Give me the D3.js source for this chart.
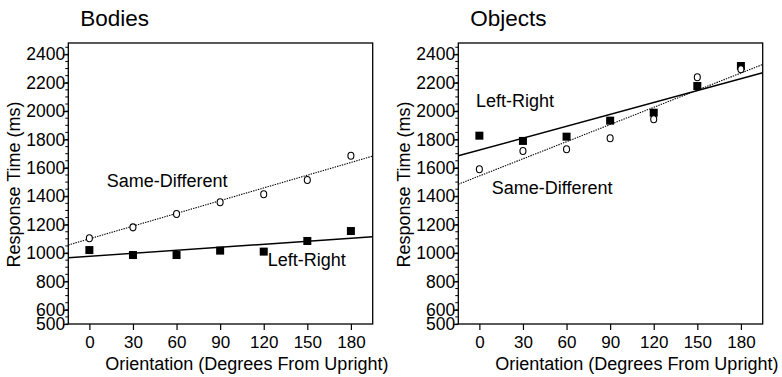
<!DOCTYPE html>
<html>
<head>
<meta charset="utf-8">
<script src="https://cdn.jsdelivr.net/npm/d3@7"></script>
<style>
  body { margin: 0; background: #fff; }
  text { font-family: "Liberation Sans", Arial, Helvetica, sans-serif; fill: #000; }
</style>
</head>
<body>
<div id="chart"></div>
<script>
// orientations (degrees from upright)
const orientations = [0, 30, 60, 90, 120, 150, 180];
const yTicks = [500, 600, 800, 1000, 1200, 1400, 1600, 1800, 2000, 2200, 2400];

// response times (ms)
const bodiesSameDiff = [1104, 1181, 1275, 1358, 1414, 1515, 1686];
const bodiesLeftRight = [1021, 986, 986, 1017, 1010, 1085, 1155];
const objectsSameDiff = [1590, 1719, 1731, 1809, 1943, 2239, 2295];
const objectsLeftRight = [1827, 1790, 1820, 1933, 1989, 2177, 2318];

// fitted lines [intercept, slope]
const bodiesSameDiffFit = [1100, 2.99];
const bodiesLeftRightFit = [977, 0.706];
const objectsSameDiffFit = [1543, 4.03];
const objectsLeftRightFit = [1726, 2.79];

const width = 782, height = 377;
const svg = d3.select("#chart").append("svg")
  .attr("width", width).attr("height", height);

const panelW = 304.4, plotTop = 43, plotBottom = 324;

function drawPanel(opts) {
  const x = d3.scaleLinear().domain([-14.5, 195]).range([opts.left, opts.left + panelW]);
  const y = d3.scaleLinear().domain([500, 2480]).range([plotBottom, plotTop]);
  const g = svg.append("g");

  //title
  g.append("text")
    .attr("x", opts.left + 12).attr("y", 26)
    .style("font-size", "22.5px")
    .text(opts.title);

  //frame
  g.append("rect")
    .attr("x", x.range()[0]).attr("y", plotTop)
    .attr("width", panelW).attr("height", plotBottom - plotTop)
    .attr("fill", "none").attr("stroke", "#000").attr("stroke-width", 1.3);

  //y axis: minor ticks every 50
  const minor = d3.range(500, 2451, 50);
  g.selectAll(".minor").data(minor).enter().append("line")
    .attr("x1", opts.left - 3).attr("x2", opts.left)
    .attr("y1", d => y(d)).attr("y2", d => y(d))
    .attr("stroke", "#000").attr("stroke-width", 1);
  const yAxis = g.append("g")
    .attr("transform", `translate(${opts.left},0)`)
    .call(d3.axisLeft(y).tickValues(yTicks).tickFormat(d3.format("d"))
      .tickSize(5).tickPadding(-2).tickSizeOuter(0));
  yAxis.select(".domain").remove();
  yAxis.selectAll("line").attr("stroke-width", 1.2);
  yAxis.selectAll("text").style("font-size", "17.5px");

  //x axis
  const xAxis = g.append("g")
    .attr("transform", `translate(0,${plotBottom})`)
    .call(d3.axisBottom(x).tickValues(orientations).tickSize(6).tickPadding(6).tickSizeOuter(0));
  xAxis.select(".domain").remove();
  xAxis.selectAll("line").attr("stroke-width", 1.2);
  xAxis.selectAll("text").style("font-size", "17px");

  //axis labels
  g.append("text")
    .attr("transform", `translate(${opts.left - 48},${(plotTop + plotBottom) / 2 + 1}) rotate(-90)`)
    .attr("text-anchor", "middle")
    .style("font-size", "18px")
    .text("Response Time (ms)");
  g.append("text")
    .attr("x", opts.left + 37).attr("y", 370)
    .style("font-size", "18px")
    .text("Orientation (Degrees From Upright)");

  //fit lines
  const clipId = "clip" + Math.round(opts.left);
  g.append("clipPath").attr("id", clipId).append("rect")
    .attr("x", opts.left).attr("y", plotTop).attr("width", panelW).attr("height", plotBottom - plotTop);
  const line = d3.line().x(d => x(d[0])).y(d => y(d[1]));
  const fitPts = (f) => x.domain().map(v => [v, f[0] + f[1] * v]);
  g.append("path").datum(fitPts(opts.lrFit))
    .attr("clip-path", `url(#${clipId})`)
    .attr("d", line).attr("fill", "none")
    .attr("stroke", "#000").attr("stroke-width", 1.4);
  g.append("path").datum(fitPts(opts.sdFit))
    .attr("clip-path", `url(#${clipId})`)
    .attr("d", line).attr("fill", "none")
    .attr("stroke", "#000").attr("stroke-width", 1.1)
    .attr("stroke-dasharray", "1.4,1.1");

  //points
  const s = 8;
  g.selectAll(".sq").data(opts.lr).enter().append("rect")
    .attr("x", (d, i) => x(orientations[i]) - s / 2)
    .attr("y", d => y(d) - s / 2)
    .attr("width", s).attr("height", s)
    .attr("fill", "#000");
  g.selectAll(".circ").data(opts.sd).enter().append("ellipse")
    .attr("cx", (d, i) => x(orientations[i]))
    .attr("cy", d => y(d))
    .attr("rx", 3).attr("ry", 3.5)
    .attr("fill", "#fff").attr("stroke", "#000").attr("stroke-width", 1.1);

  //series labels
  g.append("text")
    .attr("x", opts.sdLabel[0]).attr("y", opts.sdLabel[1])
    .style("font-size", "18px").text("Same-Different");
  g.append("text")
    .attr("x", opts.lrLabel[0]).attr("y", opts.lrLabel[1])
    .style("font-size", "18px").text("Left-Right");
}

drawPanel({
  left: 68.3, title: "Bodies",
  sd: bodiesSameDiff, lr: bodiesLeftRight,
  sdFit: bodiesSameDiffFit, lrFit: bodiesLeftRightFit,
  sdLabel: [106.7, 187], lrLabel: [267.7, 266]
});
drawPanel({
  left: 458.3, title: "Objects",
  sd: objectsSameDiff, lr: objectsLeftRight,
  sdFit: objectsSameDiffFit, lrFit: objectsLeftRightFit,
  sdLabel: [491.7, 194], lrLabel: [476, 107]
});
</script>
</body>
</html>
